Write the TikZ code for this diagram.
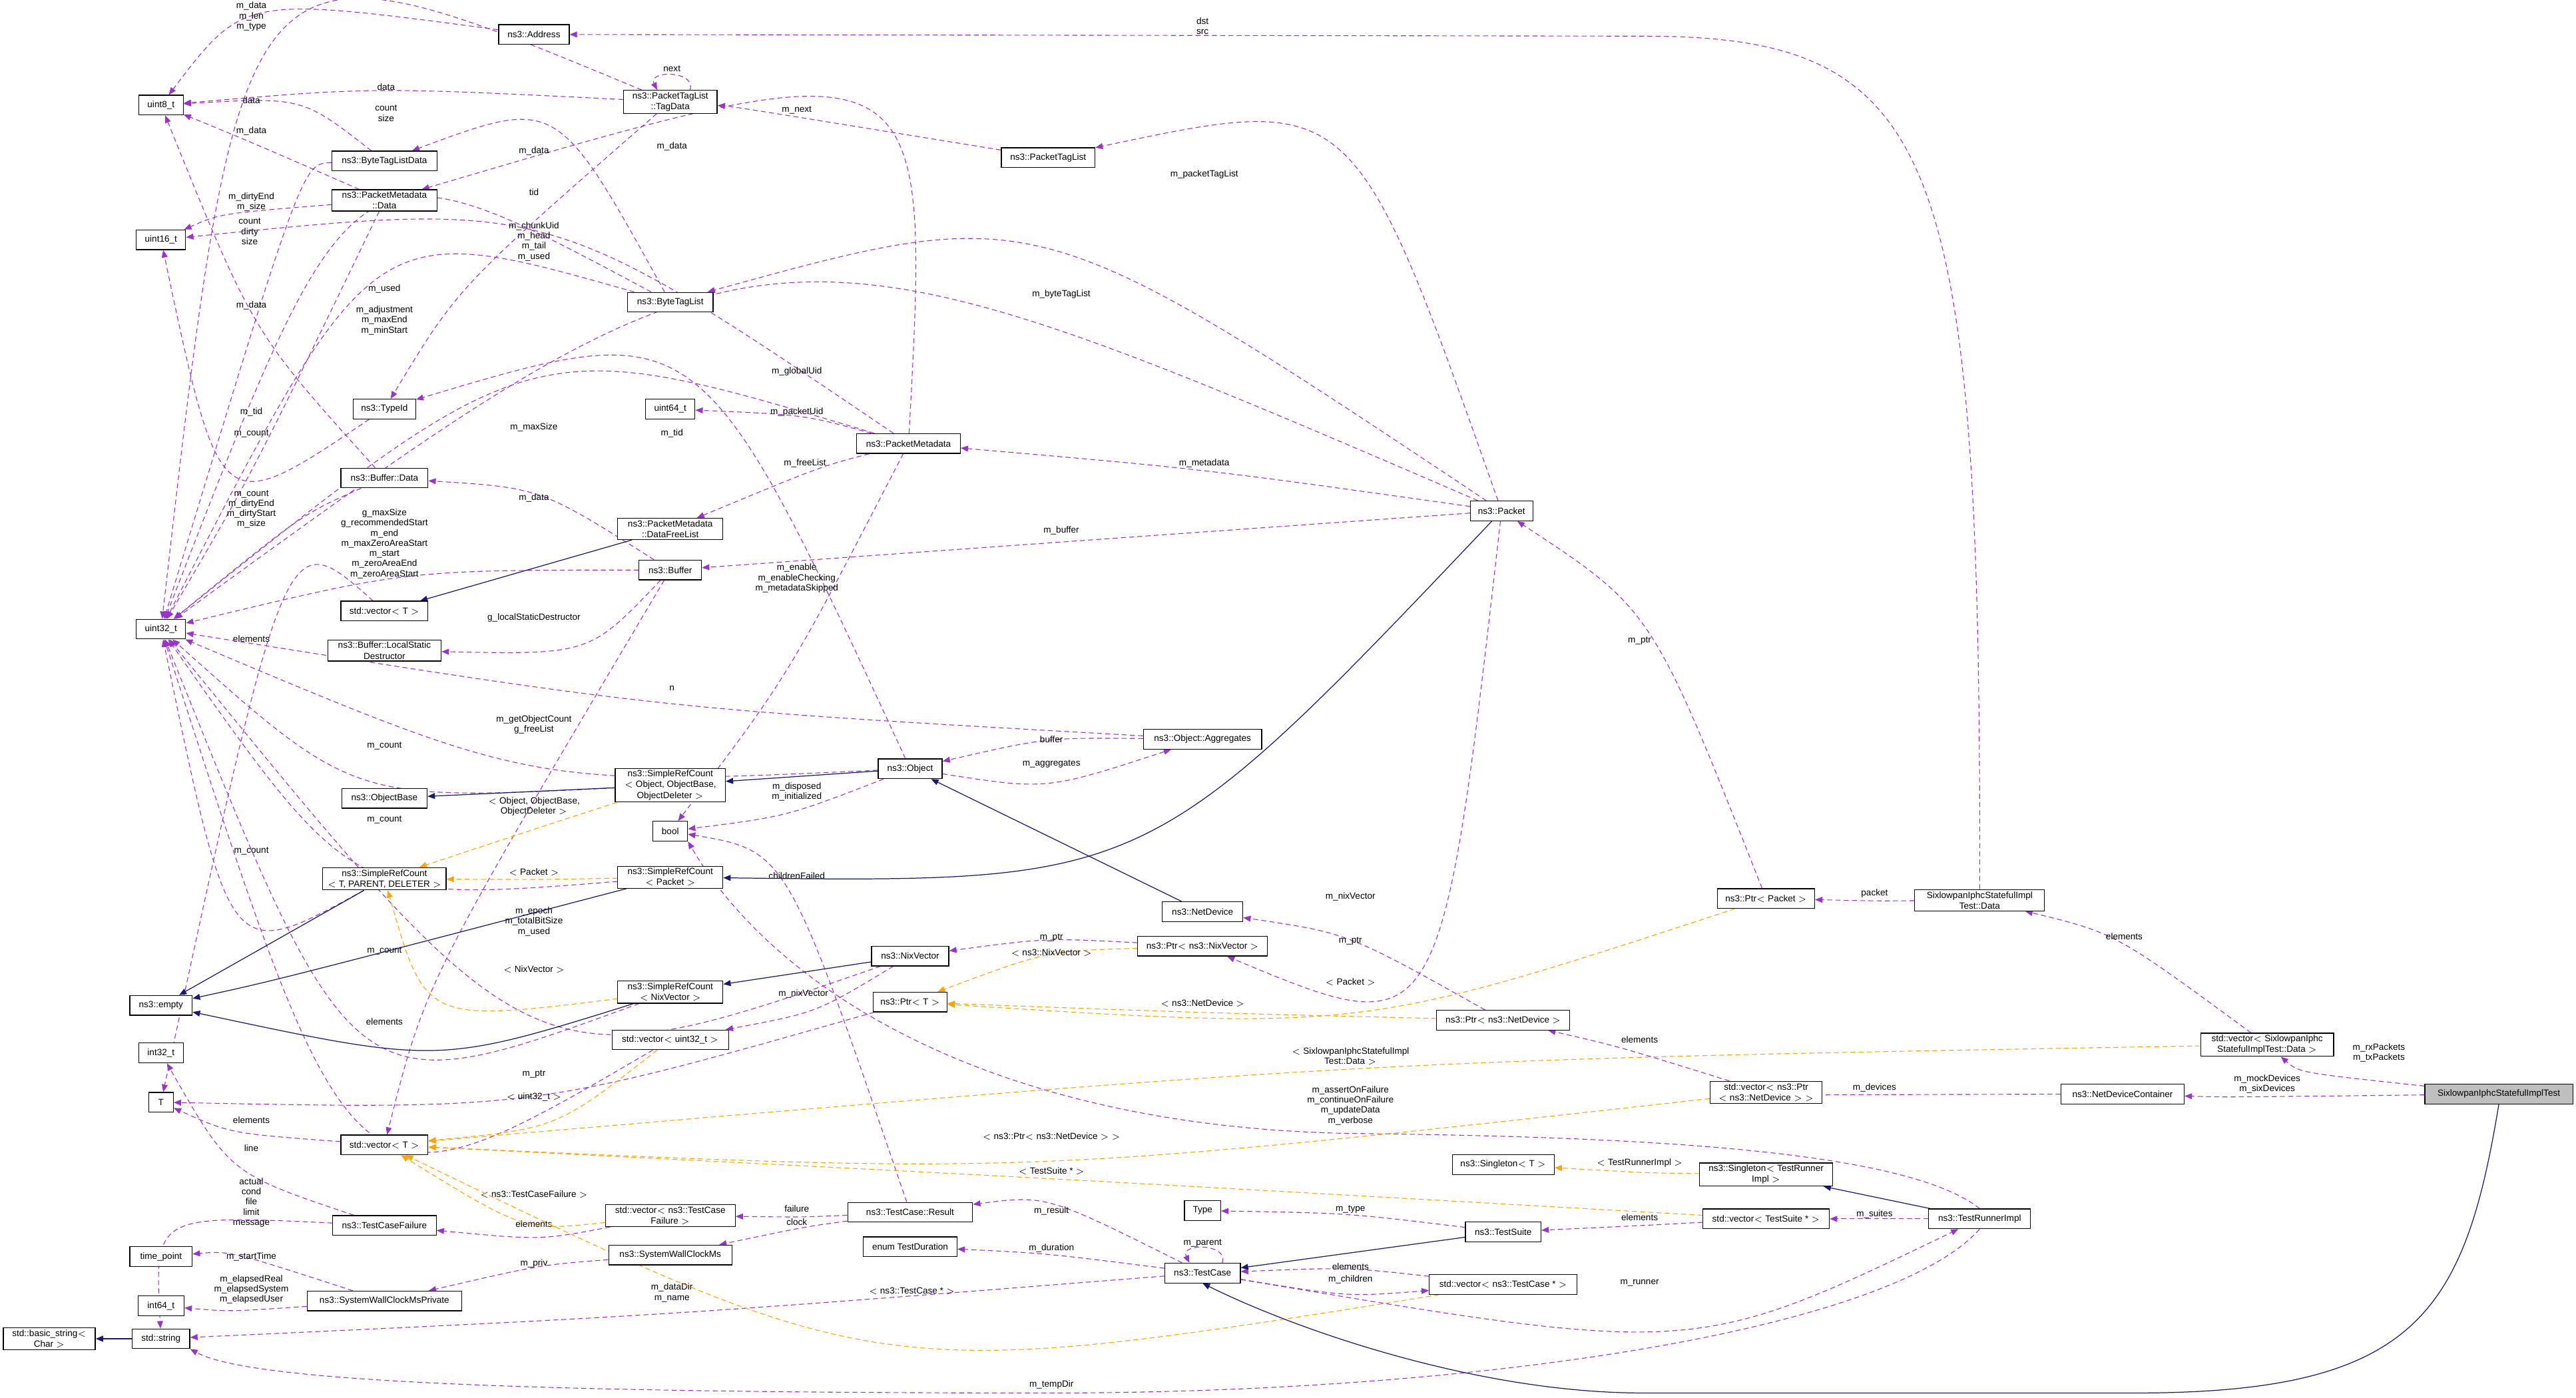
\documentclass[tikz,border=0pt]{standalone}
\usepackage{fontspec}
\setmainfont{Liberation Sans}
\usetikzlibrary{arrows.meta,calc}
\definecolor{purp}{HTML}{9A32CD}
\definecolor{orng}{HTML}{FFA500}
\definecolor{navy}{HTML}{191970}
\pgfdeclarelayer{bg}
\pgfsetlayers{bg,main}
\newcommand\E[6]{\draw[#1] (#2) .. controls ($2*(#4)-0.5*(#2)-0.5*(#3)$) .. (#3) node[lbl,at={(#5)}]{#6};}
\begin{document}
\begin{tikzpicture}[x=1pt,y=-1pt,
  box/.style={draw=black,fill=white,line width=0.5pt,inner sep=1.2pt,minimum height=12,align=center,font=\fontsize{5.5}{6.5}\selectfont},
  lbl/.style={inner sep=0,align=center,font=\fontsize{5.5}{6.2}\selectfont},
  pe/.style={draw=purp,dash pattern=on 3pt off 2pt,line width=0.45pt,-{Triangle[length=4.5pt,width=3.6pt]}},
  te/.style={draw=orng,dash pattern=on 3pt off 2pt,line width=0.45pt,-{Triangle[length=4.5pt,width=3.6pt]}},
  inh/.style={draw=navy,line width=0.5pt,-{Triangle[length=4.5pt,width=3.6pt]}}]
\useasboundingbox (0,0) rectangle (1568,851);
% nodes
\node[box,minimum width=43] (addr) at (325,21) {ns3::Address};
\node[box,minimum width=27] (u8) at (98,64) {uint8\_t};
\node[box,minimum width=57] (tagdata) at (408,62) {ns3::PacketTagList\\::TagData};
\node[box,minimum width=57] (ptl) at (638,96) {ns3::PacketTagList};
\node[box,minimum width=64] (btld) at (234,98) {ns3::ByteTagListData};
\node[box,minimum width=64] (pmd) at (234,122) {ns3::PacketMetadata\\::Data};
\node[box,minimum width=30] (u16) at (98,146) {uint16\_t};
\node[box,minimum width=52] (btl) at (408,184) {ns3::ByteTagList};
\node[box,minimum width=38] (typeid) at (234,249) {ns3::TypeId};
\node[box,minimum width=30] (u64) at (408,249) {uint64\_t};
\node[box,minimum width=63] (pm) at (553,270) {ns3::PacketMetadata};
\node[box,minimum width=53] (bufd) at (234,291) {ns3::Buffer::Data};
\node[box,minimum width=64] (dfl) at (408,322) {ns3::PacketMetadata\\::DataFreeList};
\node[box,minimum width=38] (packet) at (914,311) {ns3::Packet};
\node[box,minimum width=38] (buf) at (408,347) {ns3::Buffer};
\node[box,minimum width=53] (vecTa) at (234,372) {std::vector$<$ T $>$};
\node[box,minimum width=30] (u32) at (98,383) {uint32\_t};
\node[box,minimum width=69] (lsd) at (234,396) {ns3::Buffer::LocalStatic\\Destructor};
\node[box,minimum width=72] (agg) at (732,450) {ns3::Object::Aggregates};
\node[box,minimum width=39] (object) at (554,468) {ns3::Object};
\node[box,minimum width=67] (srcobj) at (408,478) {ns3::SimpleRefCount\\$<$ Object, ObjectBase,\\ObjectDeleter $>$};
\node[box,minimum width=52] (objbase) at (234,486) {ns3::ObjectBase};
\node[box,minimum width=21] (bool) at (408,506) {bool};
\node[box,minimum width=75] (srctpd) at (234,535) {ns3::SimpleRefCount\\$<$ T, PARENT, DELETER $>$};
\node[box,minimum width=64] (srcpkt) at (408,534) {ns3::SimpleRefCount\\$<$ Packet $>$};
\node[box,minimum width=49] (nd) at (732,555) {ns3::NetDevice};
\node[box,minimum width=59] (ptrpkt) at (1075,547) {ns3::Ptr$<$ Packet $>$};
\node[box,minimum width=79] (sixd) at (1205,548) {SixlowpanIphcStatefulImpl\\Test::Data};
\node[box,minimum width=47] (nix) at (554,582) {ns3::NixVector};
\node[box,minimum width=79] (ptrnix) at (732,576) {ns3::Ptr$<$ ns3::NixVector $>$};
\node[box,minimum width=38] (empty) at (98,612) {ns3::empty};
\node[box,minimum width=64] (srcnix) at (408,604) {ns3::SimpleRefCount\\$<$ NixVector $>$};
\node[box,minimum width=45] (ptrT) at (554,610) {ns3::Ptr$<$ T $>$};
\node[box,minimum width=81] (ptrnd) at (915,621) {ns3::Ptr$<$ ns3::NetDevice $>$};
\node[box,minimum width=81] (vsixd) at (1380,636) {std::vector$<$ SixlowpanIphc\\StatefulImplTest::Data $>$};
\node[box,minimum width=27] (i32) at (98,641) {int32\_t};
\node[box,minimum width=71] (vecu32) at (408,633) {std::vector$<$ uint32\_t $>$};
\node[box,minimum width=15] (T) at (98,671) {T};
\node[box,minimum width=68] (vpnd) at (1075,665) {std::vector$<$ ns3::Ptr\\$<$ ns3::NetDevice $>$ $>$};
\node[box,minimum width=75] (ndc) at (1292,666) {ns3::NetDeviceContainer};
\node[box,minimum width=90,fill=black!25] (six) at (1521,666) {SixlowpanIphcStatefulImplTest};
\node[box,minimum width=53] (vecTb) at (234,697) {std::vector$<$ T $>$};
\node[box,minimum width=62] (singT) at (915,709) {ns3::Singleton$<$ T $>$};
\node[box,minimum width=81] (stri) at (1075,715) {ns3::Singleton$<$ TestRunner\\Impl $>$};
\node[box,minimum width=22] (type) at (732,737) {Type};
\node[box,minimum width=63] (tcf) at (234,746) {ns3::TestCaseFailure};
\node[box,minimum width=79] (vtcf) at (408,740) {std::vector$<$ ns3::TestCase\\Failure $>$};
\node[box,minimum width=76] (tcr) at (554,738) {ns3::TestCase::Result};
\node[box,minimum width=77] (vts) at (1075,742) {std::vector$<$ TestSuite * $>$};
\node[box,minimum width=62] (tri) at (1205,742) {ns3::TestRunnerImpl};
\node[box,minimum width=46] (ts) at (915,750) {ns3::TestSuite};
\node[box,minimum width=75] (swcm) at (408,764) {ns3::SystemWallClockMs};
\node[box,minimum width=57] (enumtd) at (554,759) {enum TestDuration};
\node[box,minimum width=38] (tp) at (98,765) {time\_point};
\node[box,minimum width=46] (tc) at (732,775) {ns3::TestCase};
\node[box,minimum width=90] (vtc) at (915,782) {std::vector$<$ ns3::TestCase * $>$};
\node[box,minimum width=94] (swcmp) at (234,792) {ns3::SystemWallClockMsPrivate};
\node[box,minimum width=28] (i64) at (98,795) {int64\_t};
\node[box,minimum width=56] (bstr) at (30,815) {std::basic\_string$<$\\Char $>$};
\node[box,minimum width=35] (str) at (98,815) {std::string};
\begin{pgfonlayer}{bg}
% purple member edges
\E{pe}{addr}{u8}{180,20}{153,10}{m\_data\\m\_len\\m\_type}
\draw[pe] (sixd.north) .. controls (1206,90) and (1180,22) .. (1000,22) -- (addr.east) node[lbl,at={(732,16)}]{dst\\src};
\E{pe}{tagdata}{u8}{240,58}{235,53}{data}
\draw[pe] ([xshift=12pt]tagdata.north) .. controls ([xshift=16pt,yshift=12pt]tagdata.north) and ([xshift=-14pt,yshift=12pt]tagdata.north) .. ([xshift=-8pt]tagdata.north) node[lbl,at={(409,42)}]{next};
\E{pe}{ptl}{tagdata}{485,72}{485,67}{m\_next}
\E{pe}{packet}{ptl}{800,130}{733,106}{m\_packetTagList}
\E{pe}{btld}{u8}{175,70}{153,61}{data}
\E{pe}{pmd}{u8}{160,90}{153,80}{m\_data}
\E{pe}{tagdata}{u32}{200,88}{235,69}{count\\size}
\E{pe}{pm}{pmd}{480,110}{409,89}{m\_data}
\E{pe}{pmd}{u16}{150,132}{153,123}{m\_dirtyEnd\\m\_size}
\E{pe}{btld}{u32}{175,170}{152,141}{count\\dirty\\size}
\E{pe}{pm}{u16}{330,165}{325,147}{m\_chunkUid\\m\_head\\m\_tail\\m\_used}
\E{pe}{btl}{btld}{330,100}{325,92}{m\_data}
\E{pe}{btl}{u32}{234,182}{234,176}{m\_used}
\E{pe}{bufd}{u8}{160,190}{153,186}{m\_data}
\E{pe}{btl}{u32}{240,208}{234,195}{m\_adjustment\\m\_maxEnd\\m\_minStart}
\E{pe}{packet}{u32}{485,232}{485,226}{m\_globalUid}
\E{pe}{tagdata}{typeid}{300,165}{325,117}{tid}
\E{pe}{typeid}{u16}{150,257}{153,251}{m\_tid}
\E{pe}{pm}{u64}{485,256}{485,251}{m\_packetUid}
\E{pe}{pm}{u32}{325,264}{325,260}{m\_maxSize}
\E{pe}{object}{typeid}{410,275}{409,264}{m\_tid}
\E{pe}{pmd}{u32}{160,270}{153,264}{m\_count}
\E{pe}{pm}{dfl}{490,290}{490,282}{m\_freeList}
\E{pe}{buf}{bufd}{325,308}{325,303}{m\_data}
\E{pe}{bufd}{u32}{175,325}{153,310}{m\_count\\m\_dirtyEnd\\m\_dirtyStart\\m\_size}
\E{pe}{buf}{u32}{250,356}{234,331}{g\_maxSize\\g\_recommendedStart\\m\_end\\m\_maxZeroAreaStart\\m\_start\\m\_zeroAreaEnd\\m\_zeroAreaStart}
\E{pe}{pm}{bool}{480,400}{485,352}{m\_enable\\m\_enableChecking\\m\_metadataSkipped}
\E{pe}{packet}{buf}{646,330}{646,323}{m\_buffer}
\E{pe}{packet}{pm}{733,288}{733,282}{m\_metadata}
\E{pe}{packet}{btl}{646,185}{646,179}{m\_byteTagList}
\E{pe}{buf}{lsd}{340,385}{325,376}{g\_localStaticDestructor}
\E{pe}{vecTa}{T}{170,420}{153,389}{elements}
\E{pe}{buf}{vecTb}{290,560}{290,560}{}
\E{pe}{agg}{u32}{409,424}{409,419}{n}
\E{pe}{object}{u32}{325,452}{325,441}{m\_getObjectCount\\g\_freeList}
\E{pe}{srcobj}{u32}{234,459}{234,454}{m\_count}
\E{pe}{srcpkt}{u32}{234,504}{234,499}{m\_count}
\E{pe}{srctpd}{u32}{153,523}{153,518}{m\_count}
\E{pe}{nix}{u32}{325,572}{325,561}{m\_epoch\\m\_totalBitSize\\m\_used}
\E{pe}{srcnix}{u32}{234,584}{234,579}{m\_count}
\E{pe}{vecu32}{u32}{234,627}{234,622}{elements}
\E{pe}{ptrT}{T}{325,658}{325,654}{m\_ptr}
\E{pe}{vecTb}{T}{153,687}{153,682}{elements}
\E{pe}{tcf}{i32}{153,704}{153,699}{line}
\E{pe}{tcf}{str}{130,760}{153,732}{actual\\cond\\file\\limit\\message}
\E{pe}{tcr}{vtcf}{485,740}{485,736}{failure}
\E{pe}{tcr}{swcm}{485,749}{485,744}{clock}
\E{pe}{vtcf}{tcf}{325,749}{325,745}{elements}
\E{pe}{swcmp}{tp}{153,770}{153,765}{m\_startTime}
\E{pe}{swcm}{swcmp}{325,774}{325,769}{m\_priv}
\E{pe}{swcmp}{i64}{153,796}{153,785}{m\_elapsedReal\\m\_elapsedSystem\\m\_elapsedUser}
\E{pe}{tc}{str}{409,798}{409,787}{m\_dataDir\\m\_name}
\draw[pe] (tri.south) .. controls (1150,810) and (900,848) .. (640,848) .. controls (300,848) and (150,840) .. (str.south east) node[lbl,at={(640,843)}]{m\_tempDir};
\draw[pe] (tri.north) .. controls (1160,700) and (1000,692) .. (822,690) .. controls (600,686) and (470,600) .. (bool.south east) node[lbl,at={(822,673)}]{m\_assertOnFailure\\m\_continueOnFailure\\m\_updateData\\m\_verbose};
\E{pe}{tcr}{bool}{480,570}{485,533}{childrenFailed}
\E{pe}{object}{bool}{480,492}{485,482}{m\_disposed\\m\_initialized}
\E{pe}{agg}{object}{640,454}{640,450}{buffer}
\E{pe}{object}{agg}{640,470}{640,465}{m\_aggregates}
\E{pe}{packet}{ptrnix}{850,540}{822,546}{m\_nixVector}
\E{pe}{ptrnix}{nix}{640,575}{640,571}{m\_ptr}
\E{pe}{ptrnd}{nd}{822,578}{822,573}{m\_ptr}
\E{pe}{ptrpkt}{packet}{1000,400}{998,390}{m\_ptr}
\E{pe}{nix}{vecu32}{489,612}{489,605}{m\_nixVector}
\E{pe}{sixd}{ptrpkt}{1141,548}{1141,544}{packet}
\E{pe}{vsixd}{sixd}{1290,580}{1293,570}{elements}
\E{pe}{six}{vsixd}{1425,652}{1448,641}{m\_rxPackets\\m\_txPackets}
\E{pe}{six}{ndc}{1380,667}{1380,660}{m\_mockDevices\\m\_sixDevices}
\E{pe}{ndc}{vpnd}{1141,666}{1141,662}{m\_devices}
\E{pe}{vpnd}{ptrnd}{990,640}{998,633}{elements}
\E{pe}{tri}{vts}{1141,742}{1141,739}{m\_suites}
\E{pe}{vts}{ts}{998,746}{998,741}{elements}
\E{pe}{ts}{type}{822,741}{822,736}{m\_type}
\E{pe}{tc}{tcr}{640,742}{640,737}{m\_result}
\E{pe}{tc}{enumtd}{640,765}{640,760}{m\_duration}
\draw[pe] ([xshift=12pt]tc.north) .. controls ([xshift=16pt,yshift=12pt]tc.north) and ([xshift=-14pt,yshift=12pt]tc.north) .. ([xshift=-8pt]tc.north) node[lbl,at={(732,757)}]{m\_parent};
\E{pe}{vtc}{tc}{822,775}{822,771}{elements}
\E{pe}{tc}{vtc}{822,784}{822,779}{m\_children}
\E{pe}{tc}{tri}{1000,792}{998,781}{m\_runner}
% orange template edges
\E{te}{srcobj}{srctpd}{325,505}{325,491}{$<$ Object, ObjectBase,\\ObjectDeleter $>$}
\E{te}{srcpkt}{srctpd}{325,535}{325,531}{$<$ Packet $>$}
\E{te}{srcnix}{srctpd}{290,596}{325,590}{$<$ NixVector $>$}
\E{te}{vecu32}{vecTb}{330,676}{325,668}{$<$ uint32\_t $>$}
\E{te}{vsixd}{vecTb}{822,656}{822,643}{$<$ SixlowpanIphcStatefulImpl\\Test::Data $>$}
\E{te}{vpnd}{vecTb}{640,698}{640,692}{$<$ ns3::Ptr$<$ ns3::NetDevice $>$ $>$}
\E{te}{vts}{vecTb}{640,718}{640,713}{$<$ TestSuite * $>$}
\E{te}{vtcf}{vecTb}{320,734}{325,727}{$<$ ns3::TestCaseFailure $>$}
\E{te}{vtc}{vecTb}{555,791}{555,786}{$<$ ns3::TestCase * $>$}
\E{te}{ptrnix}{ptrT}{640,586}{640,580}{$<$ ns3::NixVector $>$}
\E{te}{ptrnd}{ptrT}{732,616}{732,611}{$<$ ns3::NetDevice $>$}
\E{te}{ptrpkt}{ptrT}{822,603}{822,598}{$<$ Packet $>$}
\E{te}{stri}{singT}{998,713}{998,708}{$<$ TestRunnerImpl $>$}
% inheritance
\draw[inh] (dfl) -- (vecTa);
\draw[inh] (object) -- (srcobj);
\draw[inh] (srcobj) -- (objbase);
\E{inh}{packet}{srcpkt}{680,480}{680,480}{}
\draw[inh] (nd) -- (object);
\draw[inh] (srctpd) -- (empty);
\E{inh}{srcpkt}{empty}{210,585}{210,585}{}
\draw[inh] (nix) -- (srcnix);
\E{inh}{srcnix}{empty}{260,628}{260,628}{}
\draw[inh] (str) -- (bstr);
\draw[inh] (tri) -- (stri);
\draw[inh] (ts) -- (tc);
\draw[inh] (six.south) .. controls (1500,800) and (1470,848) .. (1300,848) -- (1000,848) .. controls (900,848) and (790,810) .. (tc.south);
\end{pgfonlayer}
\end{tikzpicture}
\end{document}
